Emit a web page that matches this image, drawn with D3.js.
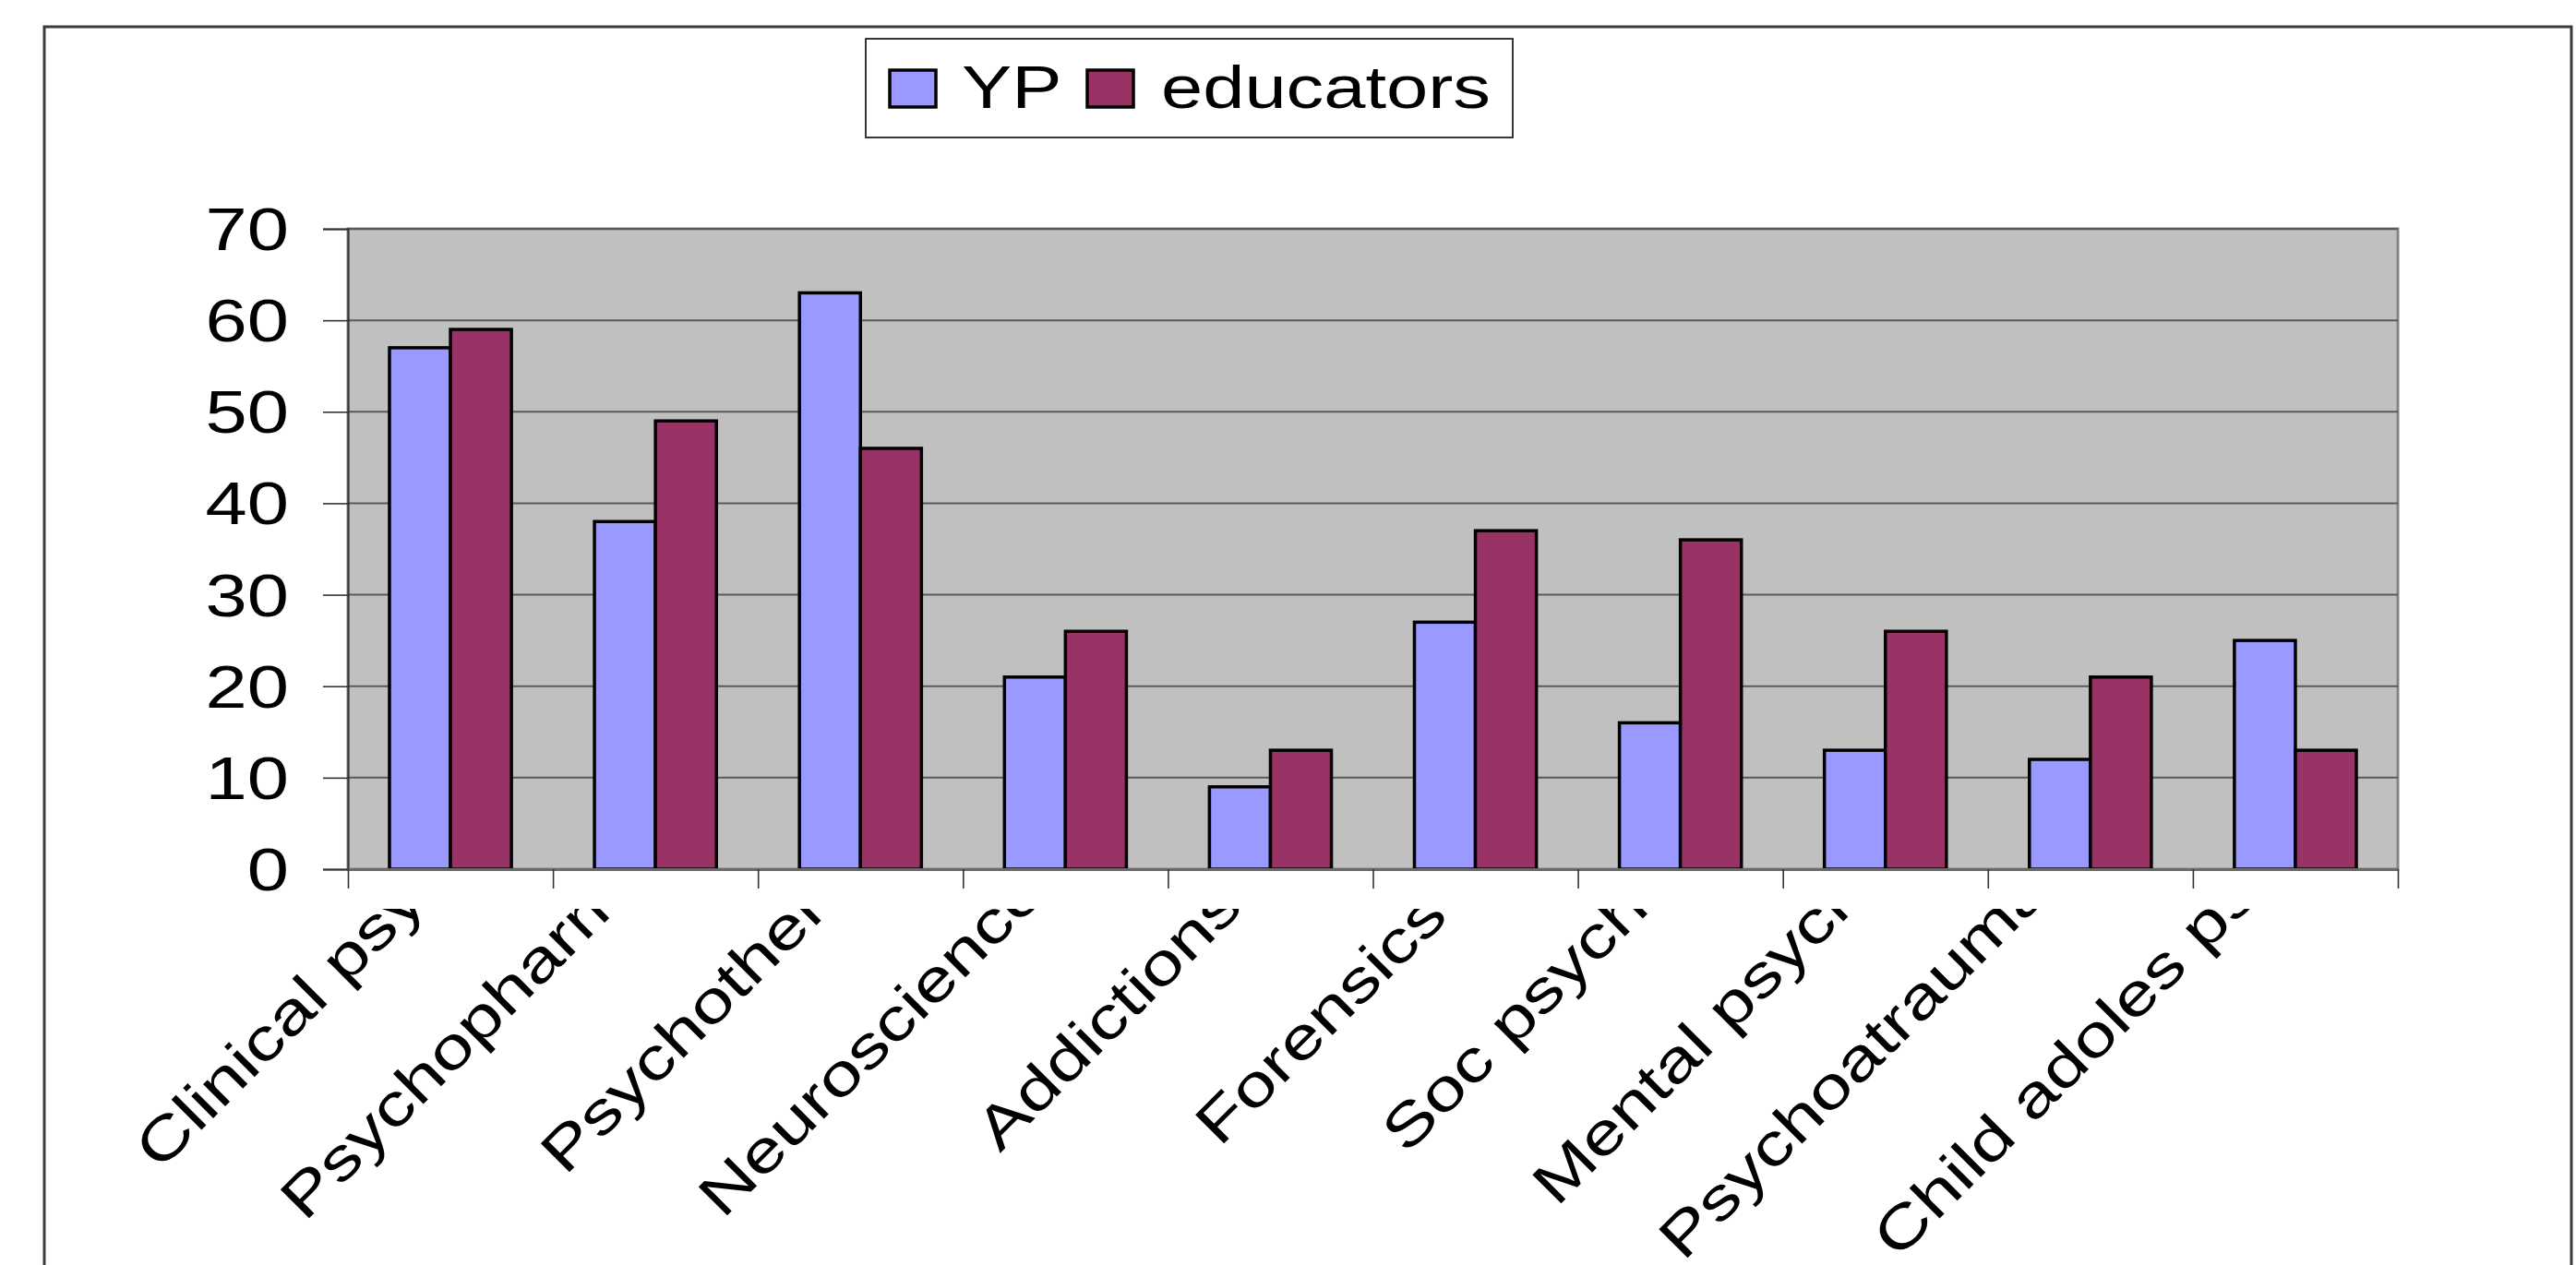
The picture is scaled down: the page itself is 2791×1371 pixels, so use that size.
<!DOCTYPE html>
<html>
<head>
<meta charset="utf-8">
<script src="https://cdn.jsdelivr.net/npm/d3@7"></script>
<style>
  html, body { margin: 0; padding: 0; background: #ffffff; }
  svg { display: block; }
  text { font-family: "Liberation Sans", Arial, sans-serif; fill: #000; }
</style>
</head>
<body>
<svg id="chart" width="2791" height="1371"></svg>
<script>
// Categories and series values
const categories = ["Clinical psych", "Psychopharm", "Psychotherapy", "Neuroscience", "Addictions",
                    "Forensics", "Soc psych", "Mental psych", "Psychoatrauma", "Child adoles psych"];
const seriesNames = ["YP", "educators"];
const ypValues = [57, 38, 63, 21, 9, 27, 16, 13, 12, 25];
const educatorValues = [59, 49, 46, 26, 13, 37, 36, 26, 21, 13];
const yTicks = [0, 10, 20, 30, 40, 50, 60, 70];

const colors = { "YP": "#9999FF", "educators": "#993366" };

const W = 2791, H = 1371;
const plot = { left: 377, right: 2598, top: 248, bottom: 942 };
const fontSize = 64;
const stretch = 1.27;   // wide text face

const svg = d3.select("#chart");

// Outer chart frame (runs past the bottom edge)
svg.append("rect")
  .attr("x", 48).attr("y", 29)
  .attr("width", 2786 - 48).attr("height", 1600)
  .attr("fill", "none").attr("stroke", "#3a3a3a").attr("stroke-width", 3);

// Scales
const x0 = d3.scaleBand().domain(categories).range([plot.left, plot.right]).padding(0);
const inner = x0.bandwidth() * 0.595;
const x1 = d3.scaleBand().domain(seriesNames)
  .range([(x0.bandwidth() - inner) / 2, (x0.bandwidth() + inner) / 2]).padding(0);
const y = d3.scaleLinear().domain([0, 70]).range([plot.bottom, plot.top]);

// Plot area
svg.append("rect")
  .attr("x", plot.left).attr("y", plot.top)
  .attr("width", plot.right - plot.left).attr("height", plot.bottom - plot.top)
  .attr("fill", "#C0C0C0").attr("stroke", "#858585").attr("stroke-width", 3);

// Horizontal gridlines
svg.append("g").selectAll("line")
  .data(yTicks.filter(d => d > 0))
  .join("line")
  .attr("x1", plot.left).attr("x2", plot.right)
  .attr("y1", d => y(d)).attr("y2", d => y(d))
  .attr("stroke", "#5a5a5a").attr("stroke-width", 2);

// Y axis
const yAxis = svg.append("g")
  .attr("transform", `translate(${plot.left},0)`)
  .call(d3.axisLeft(y).tickValues(yTicks).tickSize(27).tickFormat(""));
yAxis.select(".domain").attr("stroke", "#333").attr("stroke-width", 2);
yAxis.selectAll(".tick line").attr("stroke", "#333").attr("stroke-width", 1.6);

svg.append("g").selectAll("text")
  .data(yTicks)
  .join("text")
  .attr("transform", d => `translate(313,${y(d)}) scale(${stretch},1)`)
  .attr("text-anchor", "end")
  .attr("dy", "0.36em")
  .attr("font-size", fontSize)
  .text(d => d);

// Bars
const rows = categories.map((c, i) => ({ cat: c, values: [
  { key: "YP", value: ypValues[i] },
  { key: "educators", value: educatorValues[i] }
]}));

svg.append("g").selectAll("g")
  .data(rows)
  .join("g")
  .attr("transform", d => `translate(${x0(d.cat)},0)`)
  .selectAll("rect")
  .data(d => d.values)
  .join("rect")
  .attr("x", d => x1(d.key))
  .attr("width", x1.bandwidth())
  .attr("y", d => y(d.value))
  .attr("height", d => y(0) - y(d.value))
  .attr("fill", d => colors[d.key])
  .attr("stroke", "#000").attr("stroke-width", 3.5);

// X axis with ticks between categories
const xb = d3.scaleLinear().domain([0, categories.length]).range([plot.left, plot.right]);
const xAxis = svg.append("g")
  .attr("transform", `translate(0,${plot.bottom})`)
  .call(d3.axisBottom(xb).ticks(categories.length).tickSize(21).tickFormat("").tickSizeOuter(0));
xAxis.select(".domain").attr("stroke", "#6a6a6a").attr("stroke-width", 3);
xAxis.selectAll(".tick line").attr("stroke", "#333").attr("stroke-width", 1.6);

// Category labels, rotated and clipped below the axis
const defs = svg.append("defs");
defs.append("clipPath").attr("id", "labelClip")
  .append("rect").attr("x", 0).attr("y", 985).attr("width", W).attr("height", H - 985);

// baseline start of each rotated label: height, and horizontal nudge
const labelStartY = [1270, 1325, 1275, 1322, 1250, 1244, 1252, 1309, 1368, 1366];
const labelNudgeX = [0, -10, 0, -4, 2, 12, 0, -2, -28, -20];
const diag = 955;

svg.append("g").attr("clip-path", "url(#labelClip)")
  .selectAll("text")
  .data(categories)
  .join("text")
  .attr("transform", (d, i) => {
    const cx = x0(d) + x0.bandwidth() / 2;
    const sy = labelStartY[i];
    const sx = cx + diag - sy + labelNudgeX[i];
    return `translate(${sx},${sy}) rotate(-45) scale(${stretch},1)`;
  })
  .attr("text-anchor", "start")
  .attr("font-size", fontSize)
  .text(d => d);

// Legend
const legend = svg.append("g");
legend.append("rect")
  .attr("x", 938).attr("y", 42).attr("width", 1639 - 938).attr("height", 149 - 42)
  .attr("fill", "#fff").attr("stroke", "#222").attr("stroke-width", 1.8);

const legendItems = [
  { key: "YP", sx: 964, tx: 1042 },
  { key: "educators", sx: 1178, tx: 1258 }
];
legend.selectAll("rect.sw")
  .data(legendItems)
  .join("rect")
  .attr("class", "sw")
  .attr("x", d => d.sx).attr("y", 76)
  .attr("width", 50).attr("height", 40)
  .attr("fill", d => colors[d.key])
  .attr("stroke", "#000").attr("stroke-width", 3.5);
legend.selectAll("text")
  .data(legendItems)
  .join("text")
  .attr("transform", d => `translate(${d.tx},117) scale(${stretch},1)`)
  .attr("font-size", fontSize)
  .text(d => d.key);
</script>
</body>
</html>
